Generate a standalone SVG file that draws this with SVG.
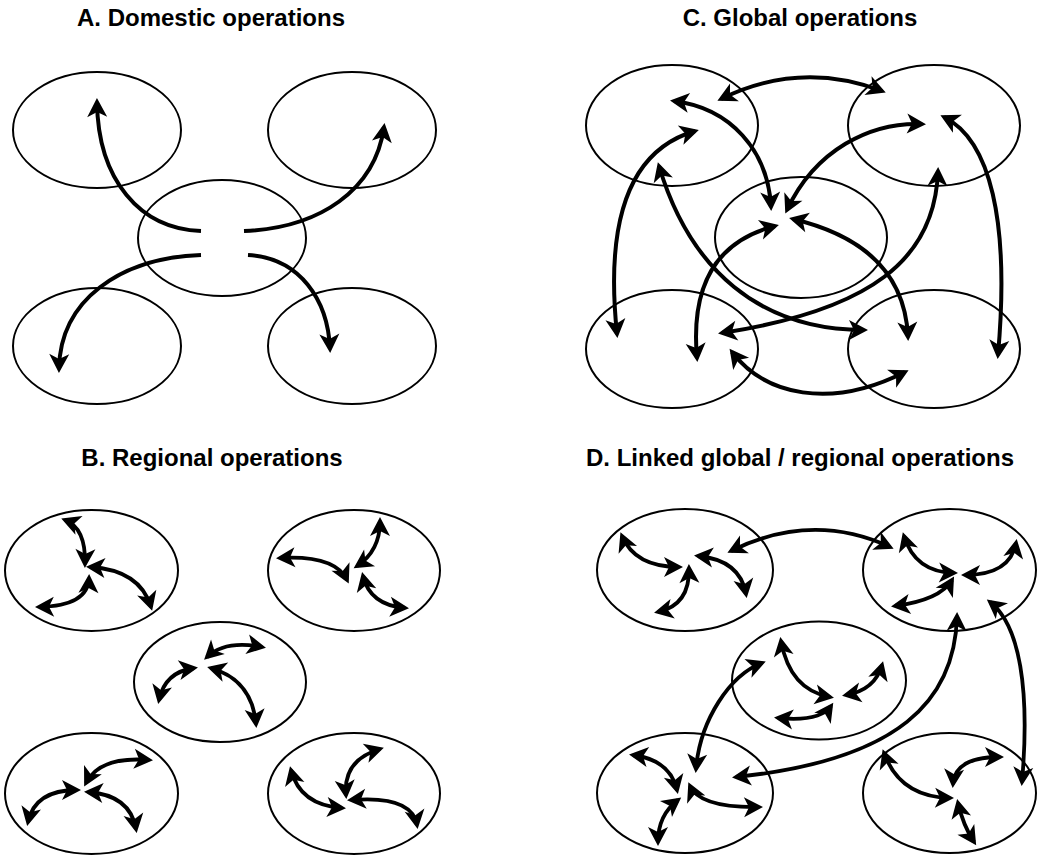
<svg xmlns="http://www.w3.org/2000/svg" width="1037" height="856" viewBox="0 0 1037 856">
<style>
.title{font-family:"Liberation Sans",Arial,Helvetica,sans-serif;font-weight:bold;font-size:24px;fill:#000;text-anchor:middle}
.node{fill:none;stroke:#000;stroke-width:2}
.arr{fill:none;stroke:#000;stroke-width:4;marker-end:url(#ah)}
.dbl{fill:none;stroke:#000;stroke-width:4;marker-start:url(#ah);marker-end:url(#ah)}
.sm{fill:none;stroke:#000;stroke-width:3.8;marker-start:url(#ah);marker-end:url(#ah)}
</style>
<defs>
<marker id="ah" viewBox="-16 -11 21 22" refX="0" refY="0" markerWidth="21" markerHeight="22" markerUnits="userSpaceOnUse" orient="auto-start-reverse">
<path d="M4,0 L-15,-10 L-10,0 L-15,10 Z" fill="#000"/>
</marker>
</defs>
<rect width="1037" height="856" fill="#fff"/>
<text class="title" x="211" y="26">A. Domestic operations</text>
<text class="title" x="800" y="26">C. Global operations</text>
<text class="title" x="212" y="466">B. Regional operations</text>
<text class="title" x="800" y="466">D. Linked global / regional operations</text>

<g id="a-tl"><ellipse class="node" cx="97" cy="130" rx="84" ry="58"/></g>
<g id="a-tr"><ellipse class="node" cx="352" cy="130" rx="84" ry="58"/></g>
<g id="a-c"><ellipse class="node" cx="222" cy="238" rx="84" ry="58"/></g>
<g id="a-bl"><ellipse class="node" cx="97" cy="346" rx="84" ry="58"/></g>
<g id="a-br"><ellipse class="node" cx="352" cy="346" rx="84" ry="58"/></g>

<g id="c-tl"><ellipse class="node" cx="672" cy="125.5" rx="86" ry="60.5"/></g>
<g id="c-tr"><ellipse class="node" cx="934" cy="125.5" rx="86" ry="60.5"/></g>
<g id="c-c"><ellipse class="node" cx="801" cy="237.5" rx="86" ry="60.5"/></g>
<g id="c-bl"><ellipse class="node" cx="672" cy="349" rx="86" ry="59"/></g>
<g id="c-br"><ellipse class="node" cx="934" cy="349" rx="86" ry="59"/></g>

<g id="b-tl"><ellipse class="node" cx="91.5" cy="570.5" rx="86.5" ry="60.5"/></g>
<g id="b-tr"><ellipse class="node" cx="354" cy="570.5" rx="86" ry="60.5"/></g>
<g id="b-c"><ellipse class="node" cx="220" cy="682" rx="86" ry="60"/></g>
<g id="b-bl"><ellipse class="node" cx="91.5" cy="793.5" rx="86.5" ry="60.5"/></g>
<g id="b-br"><ellipse class="node" cx="354" cy="793.5" rx="86" ry="60.5"/></g>

<g id="d-tl"><ellipse class="node" cx="685" cy="570" rx="88" ry="61"/></g>
<g id="d-tr"><ellipse class="node" cx="949.5" cy="570" rx="86.5" ry="61"/></g>
<g id="d-c"><ellipse class="node" cx="819" cy="680.5" rx="87" ry="59"/></g>
<g id="d-bl"><ellipse class="node" cx="685" cy="793" rx="88" ry="60"/></g>
<g id="d-br"><ellipse class="node" cx="949.5" cy="793" rx="86.5" ry="60"/></g>

<g id="connectors">
<g id="conn-a">
<path class="arr" d="M201,231 C140,229 98,180 97,102"/>
<path class="arr" d="M244,231 C320,228 375,190 384,127"/>
<path class="arr" d="M201,255 C120,258 60,300 59,369"/>
<path class="arr" d="M248,255 C300,258 328,300 330,349"/>
</g>
<g id="conn-c">
<path class="dbl" d="M721,99 Q800,60 882,91"/>
<path class="dbl" d="M674,101 C730,108 768,150 771,207"/>
<path class="dbl" d="M695,131 C630,150 605,220 617,334"/>
<path class="dbl" d="M659,166 C690,270 760,330 864,330"/>
<path class="dbl" d="M922,124 C870,122 815,150 787,210"/>
<path class="dbl" d="M944,117 C990,140 1010,220 998,355"/>
<path class="dbl" d="M938,171 C935,260 870,310 722,333"/>
<path class="dbl" d="M775,226 C720,240 690,280 697,358"/>
<path class="dbl" d="M793,219 C860,235 905,270 908,337"/>
<path class="dbl" d="M732,352 C765,395 830,410 905,372"/>
</g>
<g id="conn-b">
<path class="sm" d="M65,520 Q86,528 85,564"/>
<path class="sm" d="M90,567 Q140,570 151,607"/>
<path class="sm" d="M89,578 Q88,606 39,607"/>
<path class="sm" d="M380,521 Q380,551 357,566"/>
<path class="sm" d="M280,558 Q335,555 347,580"/>
<path class="sm" d="M363,576 Q370,605 405,608"/>
<path class="sm" d="M207,657 Q225,640 262,647"/>
<path class="sm" d="M194,668 Q165,672 159,700"/>
<path class="sm" d="M211,668 Q252,680 256,724"/>
<path class="sm" d="M86,783 Q100,756 149,760"/>
<path class="sm" d="M77,790 Q35,790 28,822"/>
<path class="sm" d="M88,792 Q130,795 136,829"/>
<path class="sm" d="M346,795 Q343,760 380,749"/>
<path class="sm" d="M291,770 Q300,805 342,808"/>
<path class="sm" d="M351,800 Q412,795 417,825"/>
</g>
<g id="conn-d">
<path class="sm" d="M622,536 Q635,567 679,567"/>
<path class="sm" d="M689,568 Q690,605 658,612"/>
<path class="sm" d="M698,556 Q740,560 746,594"/>
<path class="sm" d="M731,551 Q812,511 890,547"/>
<path class="sm" d="M904,536 Q915,572 954,573"/>
<path class="sm" d="M965,575 Q1010,575 1016,543"/>
<path class="sm" d="M952,580 Q940,600 895,606"/>
<path class="sm" d="M957,616 C955,700 900,760 736,777"/>
<path class="sm" d="M990,602 C1020,625 1030,690 1022,782"/>
<path class="sm" d="M781,641 Q790,690 830,697"/>
<path class="sm" d="M846,695 Q875,690 882,665"/>
<path class="sm" d="M831,706 Q820,722 778,718"/>
<path class="sm" d="M762,663 C730,675 700,720 696,769"/>
<path class="sm" d="M633,755 Q670,760 677,790"/>
<path class="sm" d="M678,800 Q658,815 658,842"/>
<path class="sm" d="M690,786 Q700,808 759,807"/>
<path class="sm" d="M884,753 Q900,797 950,798"/>
<path class="sm" d="M953,784 Q955,757 1000,757"/>
<path class="sm" d="M958,803 Q963,825 974,842"/>
</g>
</g>
</svg>
